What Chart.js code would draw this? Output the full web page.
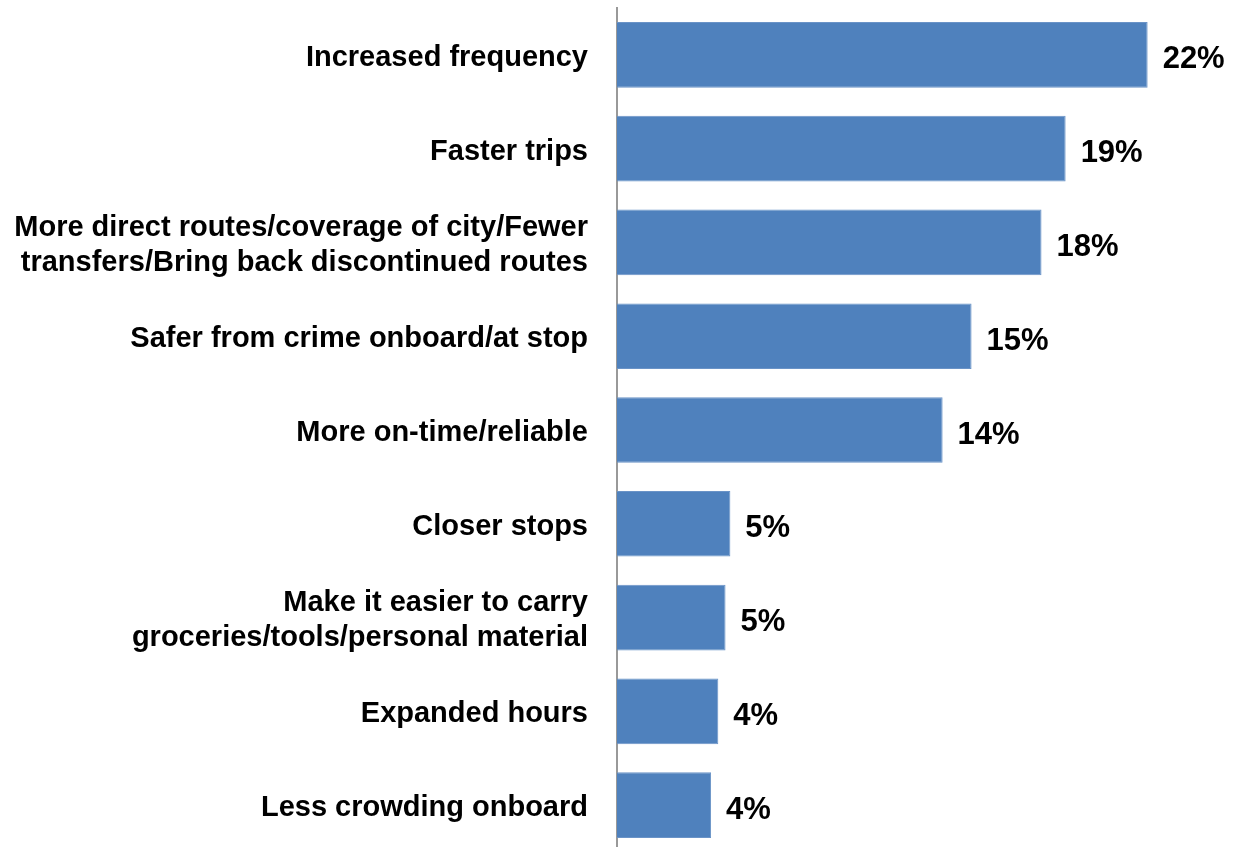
<!DOCTYPE html>
<html>
<head>
<meta charset="utf-8">
<script src="https://cdn.jsdelivr.net/npm/chart.js@4.4.1/dist/chart.umd.min.js"></script>
<style>
html,body{margin:0;padding:0;background:#fff;overflow:hidden;}
#wrap{width:1233px;height:852px;position:relative;}
</style>
</head>
<body>
<div id="wrap"><canvas id="c" width="1233" height="852"></canvas></div>
<script>
const categories = [
  "Increased frequency",
  "Faster trips",
  ["More direct routes/coverage of city/Fewer", "transfers/Bring back discontinued routes"],
  "Safer from crime onboard/at stop",
  "More on-time/reliable",
  "Closer stops",
  ["Make it easier to carry", "groceries/tools/personal material"],
  "Expanded hours",
  "Less crowding onboard"
];
const values = [22.0, 18.6, 17.6, 14.7, 13.5, 4.7, 4.5, 4.2, 3.9];
const valueLabels = ["22%", "19%", "18%", "15%", "14%", "5%", "5%", "4%", "4%"];

const labelFont = '"Liberation Sans", Arial, sans-serif';

const valuePlugin = {
  id: 'valueLabels',
  afterDatasetsDraw(chart) {
    const ctx = chart.ctx;
    const meta = chart.getDatasetMeta(0);
    ctx.save();
    ctx.font = 'bold 31px "Liberation Sans", Arial, sans-serif';
    ctx.fillStyle = '#000';
    ctx.textAlign = 'left';
    ctx.textBaseline = 'middle';
    meta.data.forEach((bar, i) => {
      ctx.fillText(valueLabels[i], bar.x + 15, bar.y + 5);
    });
    ctx.restore();
  }
};

new Chart(document.getElementById('c'), {
  type: 'bar',
  data: {
    labels: categories,
    datasets: [{
      data: values,
      backgroundColor: '#4F81BD',
      borderColor: '#6A93C7',
      borderWidth: 1,
      borderSkipped: 'left',
      barPercentage: 0.7,
      categoryPercentage: 1.0
    }]
  },
  options: {
    indexAxis: 'y',
    responsive: false,
    animation: false,
    devicePixelRatio: 1,
    layout: { padding: { top: 8, right: 13, bottom: 0, left: 0 } },
    plugins: { legend: { display: false }, tooltip: { enabled: false } },
    scales: {
      x: { display: false, min: 0, max: 25 },
      y: {
        afterFit(scale) { scale.width = 617; scale.paddingTop = 0; scale.paddingBottom = 0; },
        grid: { display: false, drawTicks: false },
        border: { display: true, color: '#999999', width: 2 },
        ticks: {
          color: '#000',
          padding: 29,
          labelOffset: 3,
          font: { family: labelFont, size: 29, weight: 'bold', lineHeight: 1.2 }
        }
      }
    }
  },
  plugins: [valuePlugin]
});
</script>
</body>
</html>
